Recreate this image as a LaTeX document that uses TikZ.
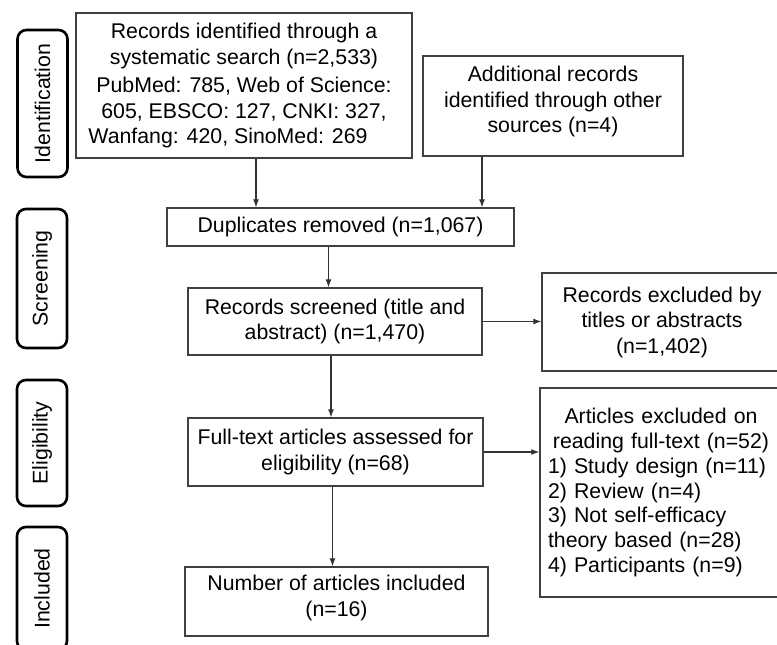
\documentclass[tikz,border=0pt]{standalone}
\usepackage{fontspec}
\setmainfont{Liberation Sans}
\usetikzlibrary{arrows.meta}

\begin{document}
\begin{tikzpicture}[x=1pt, y=-1pt,
    every node/.style={font=\fontsize{21.3}{25.5}\selectfont, inner sep=0pt},
    box/.style={draw=black!75, line width=1.3pt, align=center},
    phase/.style={draw=black, line width=2.6pt, rounded corners=9pt, rotate=90, minimum height=50pt},
    arr/.style={draw=black!80, line width=1.2pt, -{Latex[length=8pt,width=6pt]}}]
  \useasboundingbox (0,0) rectangle (777,645);
  \clip (0,0) rectangle (777,645);

  % Phase labels
  \node[phase, minimum width=147pt] (ident) at (42.5,103.5) {Identification};
  \node[phase, minimum width=139pt] (screen) at (42,278.5) {Screening};
  \node[phase, minimum width=126pt] (elig) at (42,443) {Eligibility};
  \node[phase, minimum width=123pt] (incl) at (42,588.5) {Included};

  % Boxes
  \node[box, minimum width=336pt, minimum height=145pt] (rec) at (244,85.5)
    {Records identified through a\\systematic search (n=2,533)\\[3pt]
     PubMed: 785, Web of Science:\hspace*{32pt}\\
     605, EBSCO: 127, CNKI: 327,\hspace*{32pt}\\
     Wanfang: 420, SinoMed: 269\hspace*{32pt}};
  \node[box, minimum width=260pt, minimum height=100pt] (add) at (553,106)
    {Additional records\\identified through other\\sources (n=4)\\[-13pt]\mbox{}};
  \node[box, minimum width=347pt, minimum height=38pt] (dup) at (340.5,227)
    {Duplicates removed (n=1,067)};
  \node[box, minimum width=294pt, minimum height=67pt] (scr) at (335,321.5)
    {Records screened (title and\\abstract) (n=1,470)};
  \node[box, minimum width=240pt, minimum height=98pt] (exa) at (662,322)
    {Records excluded by\\titles or abstracts\\(n=1,402)};
  \node[box, minimum width=295pt, minimum height=68pt] (ful) at (335.5,452)
    {Full-text articles assessed for\\eligibility (n=68)};
  \node[box, minimum width=242pt, minimum height=209pt, text width=226pt,
        align=left, inner xsep=8pt,
        font=\fontsize{21.3}{24.7}\selectfont] (exb) at (661,492.5)
    {\makebox[\linewidth]{Articles excluded on}\\
     \makebox[\linewidth]{reading full-text (n=52)}\\
     1) Study design (n=11)\\
     2) Review (n=4)\\
     3) Not self-efficacy\\
     theory based (n=28)\\
     4) Participants (n=9)\\[16pt]};
  \node[box, minimum width=303pt, minimum height=69pt] (num) at (336.5,601.5)
    {Number of articles included\\(n=16)\\[-14pt]\mbox{}};

  % Arrows
  \draw[arr] ([xshift=12pt]rec.south) -- ([xshift=12pt]rec.south |- dup.north);
  \draw[arr] ([xshift=-71pt]add.south) -- ([xshift=-71pt]add.south |- dup.north);
  \draw[arr] ([xshift=-12pt]dup.south) -- ([xshift=-12pt]dup.south |- scr.north);
  \draw[arr] (scr.east) -- (scr.east -| exa.west);
  \draw[arr] ([xshift=-4pt]scr.south) -- ([xshift=-4pt]scr.south |- ful.north);
  \draw[arr] (ful.east) -- (ful.east -| exb.west);
  \draw[arr] ([xshift=-3pt]ful.south) -- ([xshift=-3pt]ful.south |- num.north);
\end{tikzpicture}
\end{document}
